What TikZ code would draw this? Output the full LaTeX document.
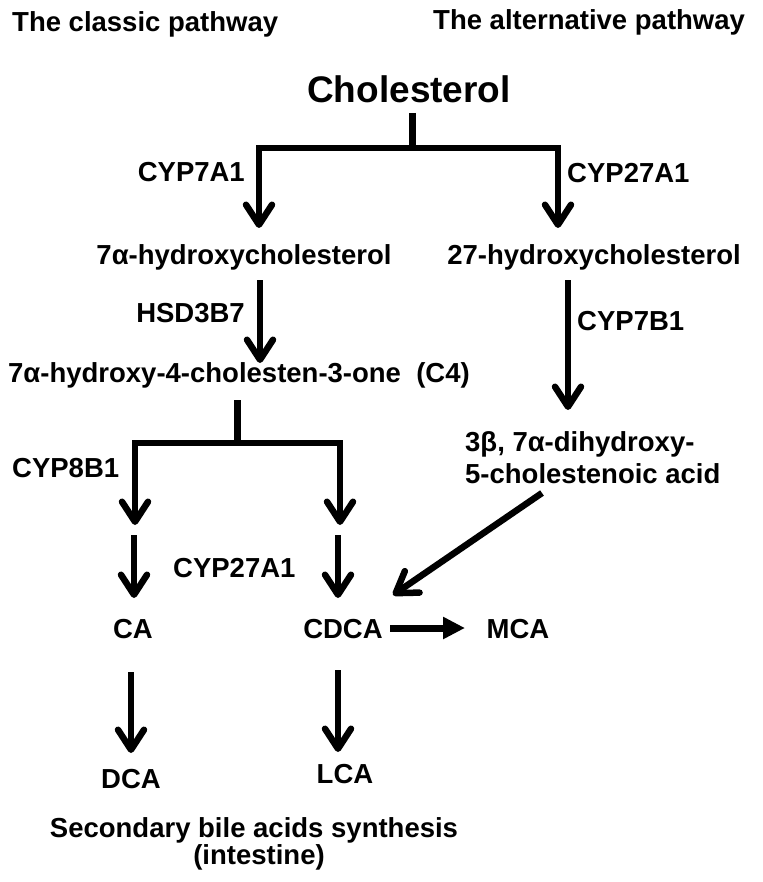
\documentclass[tikz,border=0pt]{standalone}
\usepackage{fontspec}
\setmainfont{Liberation Sans}
\usetikzlibrary{arrows.meta}
\begin{document}
\begin{tikzpicture}[x=1pt,y=-1pt,
  lbl/.style={inner sep=0pt,font=\fontsize{27.5}{33}\selectfont\bfseries},
  big/.style={inner sep=0pt,font=\fontsize{37}{44}\selectfont\bfseries},
  ln/.style={line width=7pt,line join=miter},
  arr/.style={line width=6.5pt,-{Straight Barb[length=20pt,width=26pt,round]}},
  tri/.style={line width=7pt,-{Triangle[length=22pt,width=21pt]}}]
\useasboundingbox (0,0) rectangle (762,882);
% headers
\node[lbl,anchor=base west] (hclassic) at (12,32) {The classic pathway};
\node[lbl,anchor=base west] (halt) at (433,30) {The alternative pathway};
% main nodes
\node[big,anchor=base] (chol) at (409,103) {Cholesterol};
\node[lbl,anchor=base east] (e1) at (245,182) {CYP7A1};
\node[lbl,anchor=base west] (e2) at (567,183) {CYP27A1};
\node[lbl,anchor=base] (hc7) at (244,265) {7α-hydroxycholesterol};
\node[lbl,anchor=base] (hc27) at (594,265) {27-hydroxycholesterol};
\node[lbl,anchor=base east] (e3) at (245,322) {HSD3B7};
\node[lbl,anchor=base west] (c4) at (8,382) {7α-hydroxy-4-cholesten-3-one\ \ (C4)};
\node[lbl,anchor=base west] (e4) at (577,330) {CYP7B1};
\node[lbl,anchor=base west] (dh1) at (465,451) {3β, 7α-dihydroxy-};
\node[lbl,anchor=base west] (dh2) at (465,483) {5-cholestenoic acid};
\node[lbl,anchor=base west] (e5) at (12,477) {CYP8B1};
\node[lbl,anchor=base west] (e6) at (173,577) {CYP27A1};
\node[lbl,anchor=base] (ca) at (133,638) {CA};
\node[lbl,anchor=base] (cdca) at (343,638) {CDCA};
\node[lbl,anchor=base] (mca) at (518,638) {MCA};
\node[lbl,anchor=base] (dca) at (131,788) {DCA};
\node[lbl,anchor=base] (lca) at (345,783) {LCA};
\node[lbl,anchor=base] (sec1) at (254,837) {Secondary bile acids synthesis};
\node[lbl,anchor=base] (sec2) at (259,864) {(intestine)};
% coordinates
\coordinate (s0) at (412,113);
\coordinate (j0) at (412,148);
\coordinate (t1) at (259,228);
\coordinate (t2) at (558,228);
\coordinate (a3s) at (260,280);
\coordinate (a3e) at (260,363);
\coordinate (a4s) at (568,280);
\coordinate (a4e) at (568,410);
\coordinate (s1) at (237,400);
\coordinate (j1) at (237,443);
\coordinate (t3) at (135,525);
\coordinate (t4) at (340,525);
\coordinate (a5s) at (134,535);
\coordinate (a5e) at (134,598);
\coordinate (a6s) at (338,535);
\coordinate (a6e) at (338,598);
\coordinate (dgs) at (542,493);
\coordinate (dge) at (393,595);
\coordinate (a7s) at (390,628);
\coordinate (a7e) at (465,628);
\coordinate (a8s) at (131,672);
\coordinate (a8e) at (131,753);
\coordinate (a9s) at (338,670);
\coordinate (a9e) at (338,752);
% connectors
\draw[ln] (s0) -- (j0);
\draw[ln,arr] (j0) -| (t1);
\draw[ln,arr] (j0) -| (t2);
\draw[arr] (a3s) -- (a3e);
\draw[arr] (a4s) -- (a4e);
\draw[ln] (s1) -- (j1);
\draw[ln,arr] (j1) -| (t3);
\draw[ln,arr] (j1) -| (t4);
\draw[arr] (a5s) -- (a5e);
\draw[arr] (a6s) -- (a6e);
\draw[arr] (dgs) -- (dge);
\draw[tri] (a7s) -- (a7e);
\draw[arr] (a8s) -- (a8e);
\draw[arr] (a9s) -- (a9e);
\end{tikzpicture}
\end{document}
